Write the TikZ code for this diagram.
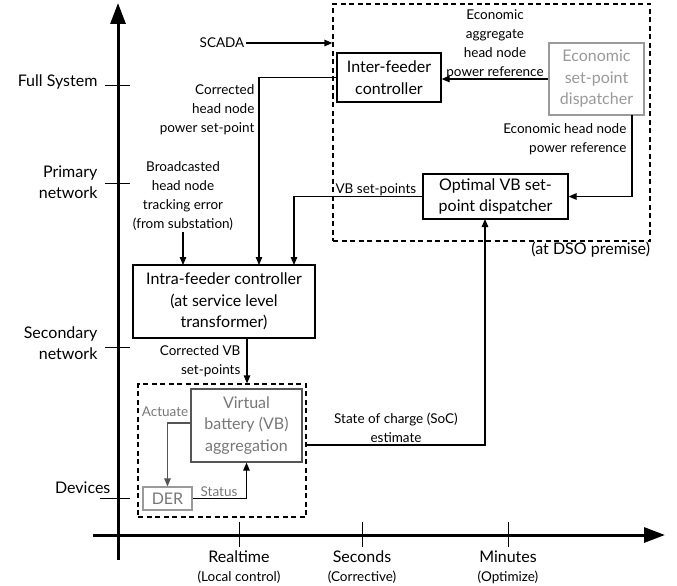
\documentclass[tikz,border=0pt]{standalone}
\usepackage{fontspec}
\setmainfont{Lato}
\usepackage{tikz}
\usetikzlibrary{arrows.meta}

\definecolor{lightgr}{HTML}{9A9A9A}
\definecolor{midgr}{HTML}{777777}
\definecolor{darkgr}{HTML}{555555}

\begin{document}
\begin{tikzpicture}[x = 1pt, y = -1pt, line width = 1.2pt,
								box/.style = {rectangle, draw, fill =
								white, inner sep = 0pt, align = center,
								font = \fontsize{16}{21.5}\selectfont},
								greybox/.style = {box, draw = lightgr,
								text = lightgr},
								dashbox/.style = {rectangle, draw, dashed,
								dash pattern = on 5pt off 3.5pt, inner sep = 0pt},
								lbl/.style = {align = center, inner sep = 1pt,
								font = \fontsize{13.5}{19}\selectfont},
								axlbl/.style = {align = right, inner sep = 0pt,
								font = \fontsize{16}{21}\selectfont},
								arr/.style = {-{Triangle[length = 8pt, width = 6.5pt]}},
								tick/.style = {line width = 0.6pt},
								]
				\useasboundingbox (0,0) rectangle (677,586);

				% axes
				\coordinate (y_0) at (118,560);
				\coordinate (y_1) at (118,3);
				\coordinate (x_0) at (93,535);
				\coordinate (x_1) at (665,535);
				\draw [line width = 3pt, -{Triangle[length = 21pt, width = 15pt]}] (y_0) -- (y_1);
				\draw [line width = 3pt, -{Triangle[length = 21pt, width = 15pt]}] (x_0) -- (x_1);

				\node [axlbl, anchor = east] (l_1) at (98,82) {Full System};
				\node [axlbl, anchor = east] (l_2) at (98,182) {Primary\\network};
				\node [axlbl, anchor = east] (l_3) at (98,343) {Secondary\\network};
				\node [axlbl, anchor = east] (l_4) at (111,488) {Devices};
				\draw [tick] (105,85) -- (130,85);
				\draw [tick] (105,183) -- (130,183);
				\draw [tick] (105,347) -- (130,347);
				\draw [tick] (100,498) -- (130,498);

				\node [axlbl, align = center] (t_1) at (239,557) {Realtime};
				\node [lbl] (t_1b) at (239,577) {(Local control)};
				\node [axlbl, align = center] (t_2) at (362,557) {Seconds};
				\node [lbl] (t_2b) at (362,577) {(Corrective)};
				\node [axlbl, align = center] (t_3) at (508,557) {Minutes};
				\node [lbl] (t_3b) at (508,577) {(Optimize)};
				\draw [tick] (239,522) -- (239,547);
				\draw [tick] (362,522) -- (362,547);
				\draw [tick] (508,522) -- (508,547);

				% DSO side
				\node [dashbox, minimum width = 317, minimum height = 237] (dso) at (491.5,122.5) {};
				\node [axlbl, anchor = north east] (dso_l) at (dso.south east) {\raisebox{-4pt}{(at DSO premise)}};
				\node [box, minimum width = 104, minimum height = 49] (ifc) at (389,77.5) {Inter-feeder\\controller};
				\node [greybox, minimum width = 95, minimum height = 72] (esd) at (596.5,79) {Economic\\set-point\\dispatcher};
				\node [box, minimum width = 145, minimum height = 45] (ovb) at (495.5,196.5) {Optimal VB set-\\point dispatcher};

				\node [lbl] (scada) at (222,43) {SCADA};
				\draw [arr] (scada.east) -- (dso.west |- scada.east);

				\draw [arr] (esd.west |- 0,79) -- (ifc.east |- 0,79)
					node [lbl, midway, above, yshift = -1pt] {Economic\\aggregate\\head node\\power reference};
				\coordinate (e_1) at (632,115);
				\draw [arr] (e_1) |- (ovb.east);
				\node [lbl, align = right, anchor = east] (e_l) at (628,139) {Economic head node\\power reference};

				% feeder side
				\node [box, minimum width = 182, minimum height = 73] (intra) at (224,301.5) {Intra-feeder controller\\(at service level\\transformer)};
				\coordinate (in_1) at (183,265);
				\coordinate (in_2) at (259,265);
				\coordinate (in_3) at (294,265);

				\node [lbl] (bc) at (183,196) {Broadcasted\\head node\\tracking error\\(from substation)};
				\draw [arr] (bc.south) -- (in_1);
				\draw [arr] (ifc.west) -| (in_2);
				\node [lbl, align = right, anchor = east] (c_l) at (256,110) {Corrected\\head node\\power set-point};
				\draw [arr] (ovb.west) -| (in_3);
				\node [lbl, anchor = south west] (v_l) at (334,197) {VB set-points};

				% devices
				\node [dashbox, minimum width = 168, minimum height = 133] (dev) at (222,450.5) {};
				\node [box, draw = darkgr, text = midgr, minimum width = 111, minimum height = 73] (vb) at (246.5,425.5) {Virtual\\battery (VB)\\aggregation};
				\node [greybox, text = midgr, minimum width = 49, minimum height = 23] (der) at (167.5,498.5) {DER};

				\coordinate (o_1) at (247,338);
				\draw [arr] (o_1) -- (o_1 |- dev.north);
				\node [lbl, align = right, anchor = east] (o_l) at (242,361) {Corrected VB\\set-points};

				\coordinate (a_1) at (191,423);
				\draw [draw = darkgr, -{Triangle[length = 8pt, width = 6.5pt, fill = darkgr]}] (a_1) -| (der.north);
				\node [lbl, text = midgr] (a_l) at (165,412) {Actuate};
				\draw [arr] (der.east) -| (vb.south);
				\node [lbl, text = midgr, anchor = south] (s_l) at (219,498) {Status};

				\coordinate (s_1) at (306,445);
				\coordinate (s_2) at (485,219);
				\draw [arr] (s_1) -| (s_2);
				\node [lbl] (soc) at (396,428) {State of charge (SoC)\\estimate};
			\end{tikzpicture}
\end{document}
